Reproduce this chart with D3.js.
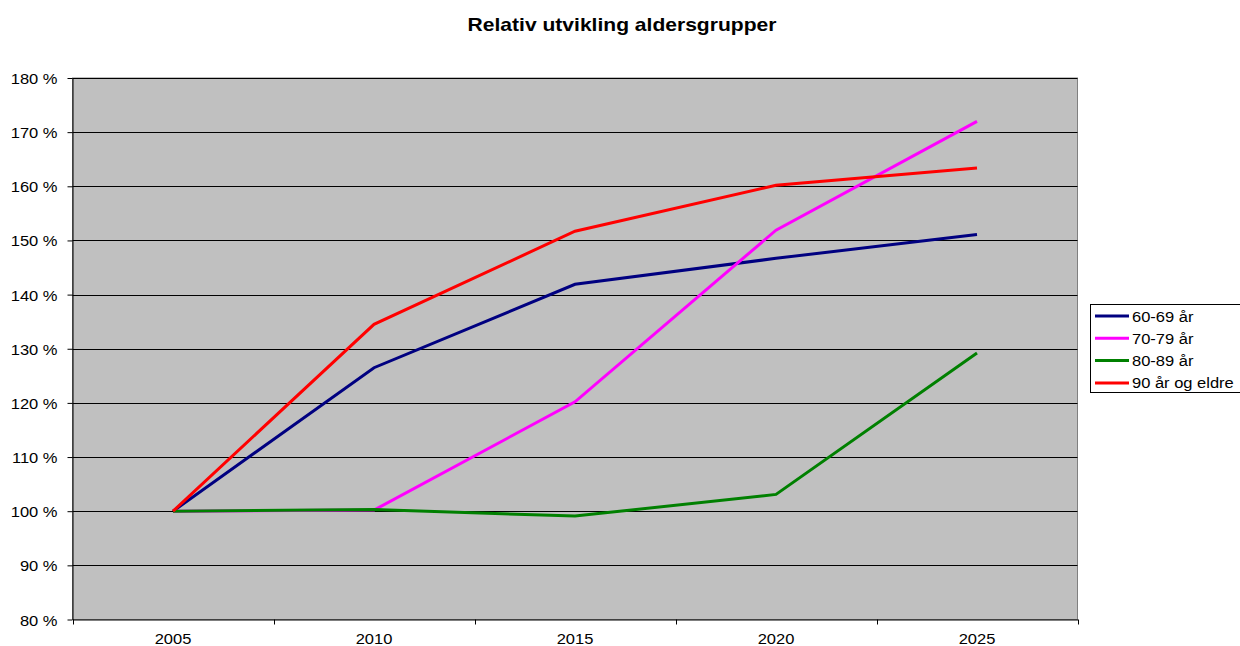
<!DOCTYPE html>
<html><head><meta charset="utf-8">
<script src="https://cdn.jsdelivr.net/npm/d3@7"></script>
<style>body{margin:0;background:#fff;font-family:"Liberation Sans",Arial,sans-serif;}</style>
</head><body>
<svg id="c" width="1240" height="646"></svg>
<script>
const years = ["2005","2010","2015","2020","2025"];
const seriesNames = ["60-69 år","70-79 år","80-89 år","90 år og eldre"];
const seriesColors = ["#000080","#FF00FF","#008000","#FF0000"];
const s6069 = [100, 126.5, 141.9, 146.7, 151.1];
const s7079 = [100, 100.2, 120.2, 151.9, 172.0];
const s8089 = [100, 100.3, 99.1, 103.1, 129.2];
const s90 = [100, 134.5, 151.7, 160.2, 163.4];
const yTicks = [80,90,100,110,120,130,140,150,160,170,180];
const title = "Relativ utvikling aldersgrupper";
const seriesValues = [s6069, s7079, s8089, s90];

const FF = "Liberation Sans, Arial, sans-serif";
const SX = 1.1;
const svg = d3.select("#c");
const L=72.5, R=1077.5, T=78, B=619.5;
const x = d3.scaleBand().domain(years).range([L,R]);
const y = d3.scaleLinear().domain([80,180]).range([B,T]);

svg.append("text").attr("transform",`translate(622,31) scale(1.17,1)`).attr("text-anchor","middle")
  .attr("font-family",FF).attr("font-size","18px").attr("font-weight","bold").attr("fill","#000").text(title);

svg.append("rect").attr("x",L).attr("y",T).attr("width",R-L).attr("height",B-T)
  .attr("fill","#C0C0C0").attr("stroke","#808080").attr("stroke-width",1);

// gridlines
svg.append("g").selectAll("line").data(yTicks.slice(1)).join("line")
  .attr("x1",L).attr("x2",R).attr("y1",d=>Math.round(y(d))+0.5).attr("y2",d=>Math.round(y(d))+0.5)
  .attr("stroke","#000").attr("stroke-width",1);

// y axis
const ya = svg.append("g").attr("transform",`translate(${L},0)`)
  .call(d3.axisLeft(y).tickValues(yTicks).tickFormat(d=>d+" %").tickSize(5).tickSizeOuter(0));
ya.select(".domain").attr("stroke","#000");
ya.selectAll(".tick line").attr("stroke","#000");
ya.selectAll("text").attr("font-size","15px").attr("fill","#000")
  .attr("font-family",FF).attr("x",null).attr("dy",null)
  .attr("transform",`translate(-15,5.5) scale(${SX},1)`);

// x axis
const xa = svg.append("g").attr("transform",`translate(0,${B})`)
  .call(d3.axisBottom(x).tickSize(0).tickSizeOuter(0));
xa.select(".domain").attr("stroke","#000");
xa.selectAll("text").attr("font-size","15px").attr("fill","#000")
  .attr("font-family",FF).attr("y",null).attr("dy",null)
  .attr("transform",`translate(0,24.5) scale(${SX},1)`);
const bounds = years.map(d=>x(d)).concat([R]);
xa.append("g").selectAll("line").data(bounds).join("line")
  .attr("x1",d=>Math.round(d)+0.5).attr("x2",d=>Math.round(d)+0.5).attr("y1",0).attr("y2",5)
  .attr("stroke","#000");

// lines
const line = d3.line().x((d,i)=>x(years[i])+x.bandwidth()/2).y(d=>y(d));
seriesValues.forEach((vals,k)=>{
  svg.append("path").datum(vals).attr("d",line).attr("fill","none")
    .attr("stroke",seriesColors[k]).attr("stroke-width",3).attr("stroke-linejoin","miter");
});

// legend
const lg = svg.append("g");
lg.append("rect").attr("x",1090.5).attr("y",304.5).attr("width",152).attr("height",88)
  .attr("fill","#fff").attr("stroke","#000").attr("stroke-width",1);
seriesNames.forEach((n,k)=>{
  const yy = 316 + k*22.3;
  lg.append("line").attr("x1",1095).attr("x2",1129).attr("y1",yy).attr("y2",yy)
    .attr("stroke",seriesColors[k]).attr("stroke-width",3);
  lg.append("text").attr("transform",`translate(1132,${yy+5.5}) scale(${SX},1)`)
    .attr("font-family",FF).attr("font-size","15px").attr("fill","#000").text(n);
});
</script>
</body></html>
